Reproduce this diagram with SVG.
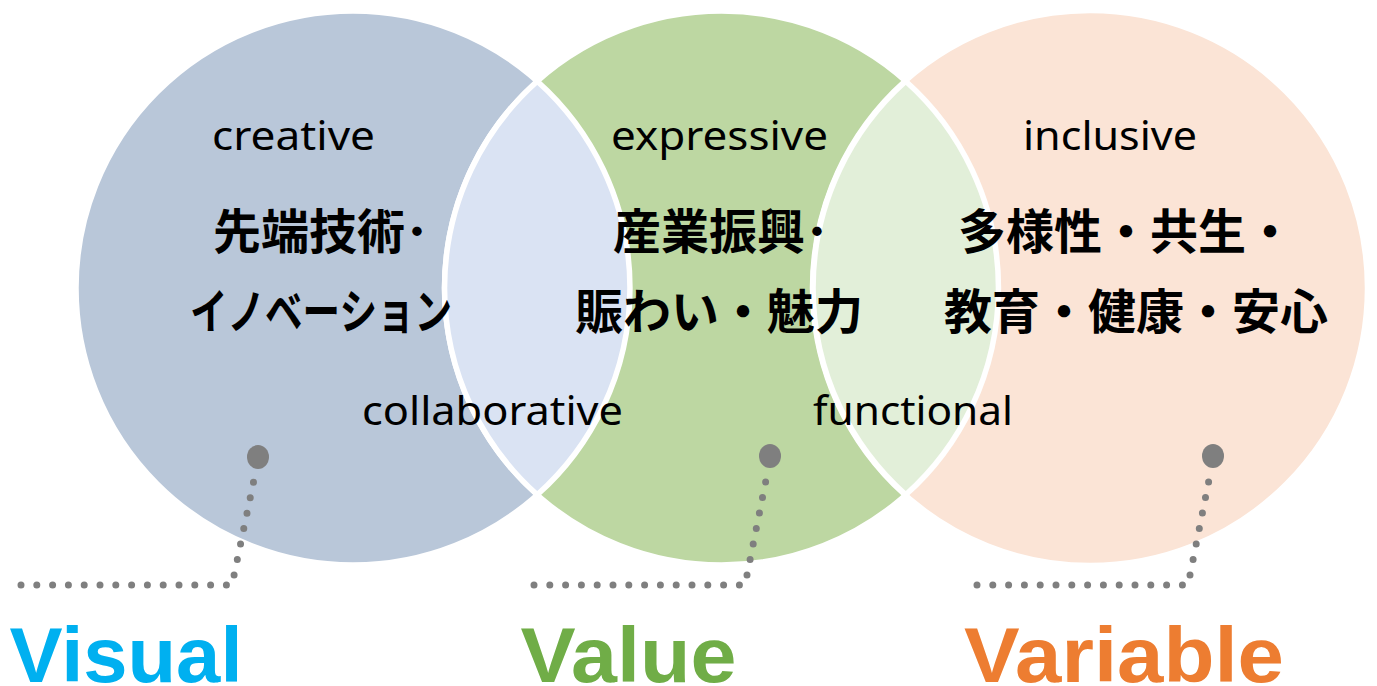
<svg xmlns="http://www.w3.org/2000/svg" width="1377" height="686" viewBox="0 0 1377 686">
<style>
.circle{stroke:#fff;stroke-width:5.5}
.lens{stroke:#fff;stroke-width:5.5}
.en{font-family:"Noto Sans","Liberation Sans",sans-serif;font-size:40px;fill:#000;text-anchor:middle}
.jp{font-family:"Noto Sans CJK JP",sans-serif;font-size:48px;font-weight:bold;fill:#000}
.big{font-family:"Liberation Sans","Noto Sans",sans-serif;font-size:78px;font-weight:bold;text-anchor:middle}
.dots{fill:none;stroke:#7f7f7f;stroke-width:7;stroke-linecap:round;stroke-dasharray:0 15.8}
.pin{fill:#7f7f7f}
</style>
<rect width="1377" height="686" fill="#fff"/>
<g id="visual-circle">
<circle class="circle" cx="353" cy="288" r="277" fill="#b9c7d9"/>
</g>
<g id="value-circle">
<circle class="circle" cx="721.5" cy="288" r="277" fill="#bdd7a2"/>
</g>
<g id="variable-circle">
<circle class="circle" cx="1090" cy="288" r="277.5" fill="#fbe4d6"/>
</g>
<g id="lens-collaborative">
<path class="lens" d="M537.25 81.2 A277 277 0 0 1 537.25 494.8 A277 277 0 0 1 537.25 81.2 Z" fill="#dae3f3"/>
</g>
<g id="lens-functional">
<path class="lens" d="M905.75 81.2 A277 277 0 0 1 905.75 494.8 A277 277 0 0 1 905.75 81.2 Z" fill="#e2efd9"/>
</g>
<g id="labels-en">
<text class="en" x="293.5" y="150" textLength="163" lengthAdjust="spacingAndGlyphs">creative</text>
<text class="en" x="719.5" y="150" textLength="217" lengthAdjust="spacingAndGlyphs">expressive</text>
<text class="en" x="1110" y="150" textLength="174" lengthAdjust="spacingAndGlyphs">inclusive</text>
<text class="en" x="492.5" y="425" textLength="261" lengthAdjust="spacingAndGlyphs">collaborative</text>
<text class="en" x="913" y="425" textLength="200" lengthAdjust="spacingAndGlyphs">functional</text>
</g>
<g id="labels-jp">
<text class="jp" x="213" y="249">先端技術･</text>
<text class="jp" x="190" y="329" textLength="262" lengthAdjust="spacingAndGlyphs">イノベーション</text>
<text class="jp" x="613" y="249">産業振興･</text>
<text class="jp" x="575" y="329">賑わい・魅力</text>
<text class="jp" x="958" y="249">多様性・共生・</text>
<text class="jp" x="944" y="329">教育・健康・安心</text>
</g>
<g id="connectors">
<path class="dots" d="M21 585 L232 585 L256 470"/>
<path class="dots" d="M534 585 L745 585 L768 470"/>
<path class="dots" d="M977 585 L1188 585 L1211 470"/>
</g>
<g id="pins">
<ellipse class="pin" cx="258" cy="457" rx="11" ry="12"/>
<ellipse class="pin" cx="770" cy="456" rx="11" ry="12"/>
<ellipse class="pin" cx="1213" cy="456" rx="11" ry="12"/>
</g>
<g id="titles">
<text class="big" x="126" y="682" fill="#00b0f0" textLength="233" lengthAdjust="spacingAndGlyphs">Visual</text>
<text class="big" x="628.5" y="682" fill="#70ad47" textLength="216" lengthAdjust="spacingAndGlyphs">Value</text>
<text class="big" x="1124" y="682" fill="#ed7d31" textLength="320" lengthAdjust="spacingAndGlyphs">Variable</text>
</g>
</svg>
